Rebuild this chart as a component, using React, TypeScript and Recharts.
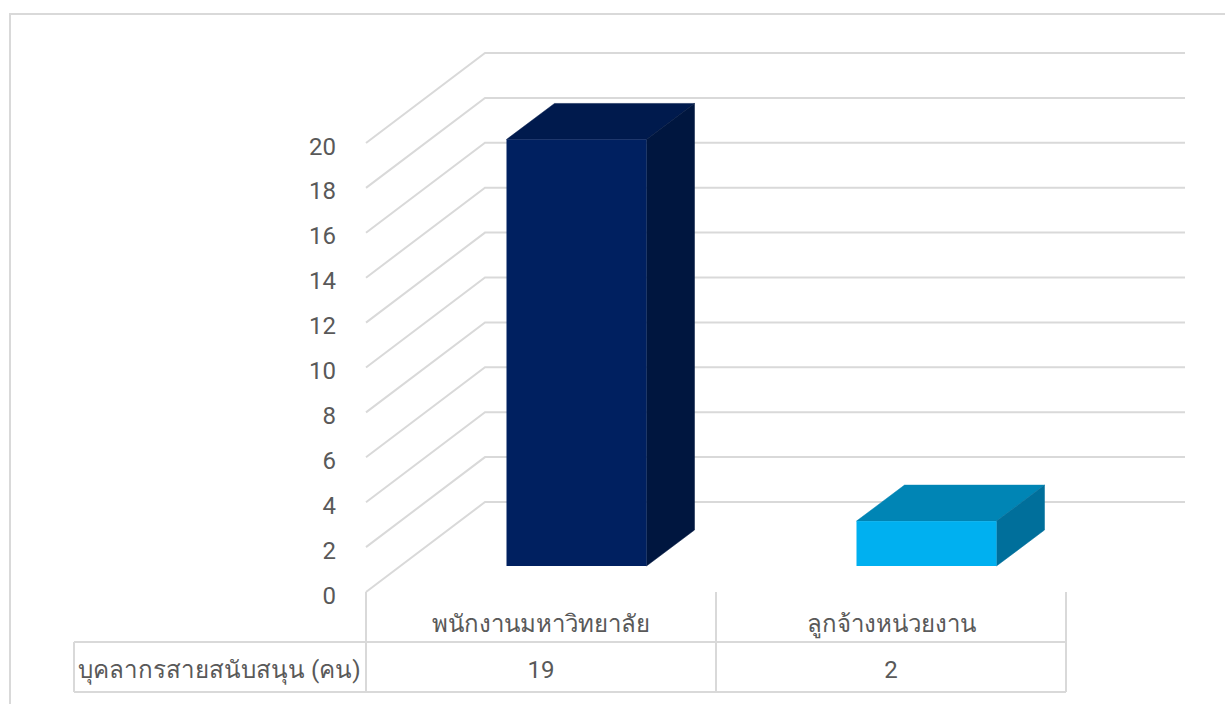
import { BarChart, Bar, XAxis, YAxis, CartesianGrid } from "recharts"

const categories = ["พนักงานมหาวิทยาลัย", "ลูกจ้างหน่วยงาน"]
const staffCounts = [19, 2]
const yTicks = [0, 2, 4, 6, 8, 10, 12, 14, 16, 18, 20]
const rowLabel = "บุคลากรสายสนับสนุน (คน)"

const frontColors = ["#002060", "#00B0F0"]
const topColors = ["#001A4D", "#0085B5"]
const sideColors = ["#00163F", "#006F9B"]

const data = categories.map((name, i) => ({ name, count: staffCounts[i] }))

const FONT = "Roboto, 'Noto Sans', sans-serif"
const TEXT = "#595959"
const LINE = "#D9D9D9"

// floor depth of the fake 3d box
const WALL_DX = 119
const WALL_DY = -90
const BAR_SHIFT_X = 35.5
const BAR_SHIFT_Y = -26
const BAR_DX = 48
const BAR_DY = -36

const AXIS_Y = 592
const ROW_Y = 642
const TABLE_BOTTOM = 692
const TABLE_LEFT = 74
const CELL_W = 350

function GridLine(props: any) {
  const { x1, x2, y1 } = props
  return (
    <path
      d={`M${x1},${y1} L${x1 + WALL_DX},${y1 + WALL_DY} L${x2 + WALL_DX},${y1 + WALL_DY}`}
      fill="none"
      stroke={LINE}
      strokeWidth={2}
    />
  )
}

function Box(props: any) {
  const { x, y, width, height, index } = props
  const l = x + BAR_SHIFT_X
  const t = y + BAR_SHIFT_Y
  const r = l + width
  const b = t + height
  return (
    <g>
      <path
        d={`M${l},${t} L${l + BAR_DX},${t + BAR_DY} L${r + BAR_DX},${t + BAR_DY} L${r},${t} Z`}
        fill={topColors[index]}
        stroke={topColors[index]}
        strokeWidth={0.5}
      />
      <path
        d={`M${r},${t} L${r + BAR_DX},${t + BAR_DY} L${r + BAR_DX},${b + BAR_DY} L${r},${b} Z`}
        fill={sideColors[index]}
        stroke={sideColors[index]}
        strokeWidth={0.5}
      />
      <rect x={l} y={t} width={width} height={height} fill={frontColors[index]} />
    </g>
  )
}

function TableTick(props: any) {
  const { x, payload, index } = props
  const left = x - CELL_W / 2
  const right = x + CELL_W / 2
  return (
    <g>
      <line x1={left} y1={AXIS_Y} x2={left} y2={TABLE_BOTTOM} stroke={LINE} strokeWidth={2} />
      <line x1={right} y1={AXIS_Y} x2={right} y2={TABLE_BOTTOM} stroke={LINE} strokeWidth={2} />
      {index === 0 && (
        <g>
          <line x1={TABLE_LEFT} y1={ROW_Y} x2={TABLE_LEFT} y2={TABLE_BOTTOM} stroke={LINE} strokeWidth={2} />
          <line x1={TABLE_LEFT} y1={ROW_Y} x2={left} y2={ROW_Y} stroke={LINE} strokeWidth={2} />
          <line x1={TABLE_LEFT} y1={TABLE_BOTTOM} x2={left} y2={TABLE_BOTTOM} stroke={LINE} strokeWidth={2} />
          <text x={78} y={678} fontSize={24.2} fill={TEXT} fontFamily={FONT}>{rowLabel}</text>
        </g>
      )}
      <line x1={left} y1={ROW_Y} x2={right} y2={ROW_Y} stroke={LINE} strokeWidth={2} />
      <line x1={left} y1={TABLE_BOTTOM} x2={right} y2={TABLE_BOTTOM} stroke={LINE} strokeWidth={2} />
      <text x={x} y={632} textAnchor="middle" fontSize={24} fill={TEXT} fontFamily={FONT}>{payload.value}</text>
      <text x={x} y={678} textAnchor="middle" fontSize={24} fill={TEXT} fontFamily={FONT}>{staffCounts[index]}</text>
    </g>
  )
}

export default function App() {
  return (
    <div style={{ position: "absolute", left: 0, top: 0, width: 1225, height: 704, overflow: "hidden", background: "#fff" }}>
      {/* frame is cropped at the right and bottom of the page */}
      <div style={{ position: "absolute", left: 9, top: 13, width: 1240, height: 720, border: `2px solid ${LINE}`, boxSizing: "border-box" }} />
      <BarChart
        width={1225}
        height={704}
        data={data}
        barSize={140}
        margin={{ top: 143, right: 159, bottom: 12, left: 306 }}
        style={{ position: "absolute", left: 0, top: 0 }}
      >
        <CartesianGrid vertical={false} horizontal={GridLine} />
        <XAxis dataKey="name" axisLine={false} tickLine={false} height={100} interval={0} tick={TableTick} />
        <YAxis
          width={60}
          domain={[0, 20]}
          ticks={yTicks}
          interval={0}
          axisLine={false}
          tickLine={false}
          tickSize={0}
          tickMargin={30}
          tick={{ fill: TEXT, fontSize: 24, fontFamily: FONT, dy: 3 }}
        />
        <Bar dataKey="count" shape={Box} isAnimationActive={false} />
      </BarChart>
    </div>
  )
}
